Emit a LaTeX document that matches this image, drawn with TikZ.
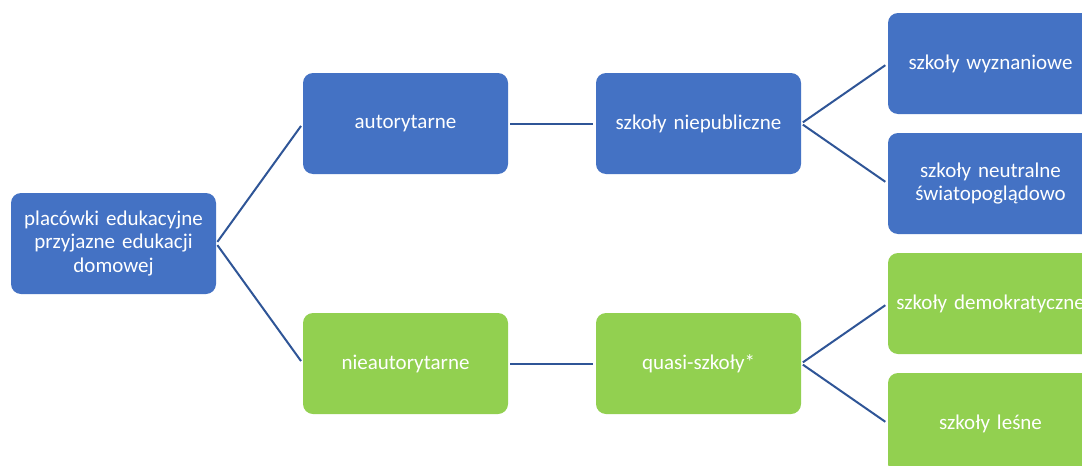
\documentclass[tikz,border=0pt]{standalone}
\usepackage{fontspec}
\setmainfont{Carlito}
\definecolor{boxblue}{HTML}{4472C4}
\definecolor{boxgreen}{HTML}{92D050}
\definecolor{linkblue}{HTML}{2F5597}
\begin{document}
\begin{tikzpicture}[x=1pt,y=-1pt,
  card/.style={rectangle, rounded corners=10pt, minimum width=205pt, minimum height=101pt,
    text=white, align=center, text width=200pt, inner sep=0pt,
    font=\fontsize{21}{23.3}\selectfont},
  bluecard/.style={card, fill=boxblue},
  greencard/.style={card, fill=boxgreen},
  link/.style={draw=linkblue, line width=2pt, shorten >=3pt, shorten <=2pt}]
\clip (0,0) rectangle (1082,466);
\fill[white] (0,0) rectangle (1082,466);
% levels of the tree
\node[bluecard] (root) at (113.5,243.5) {placówki edukacyjne\\przyjazne edukacji\\domowej};
\node[bluecard] (aut) at (405.5,123.5) {autorytarne};
\node[greencard] (nieaut) at (405.5,363.5) {nieautorytarne};
\node[bluecard] (niepub) at (698.5,123.5) {szkoły niepubliczne};
\node[greencard] (quasi) at (698.5,363.5) {quasi-szkoły*};
\node[bluecard] (wyzn) at (990.5,63.5) {szkoły wyznaniowe};
\node[bluecard] (neutr) at (990.5,183.5) {szkoły neutralne\\światopoglądowo};
\node[greencard] (demo) at (990.5,303.5) {szkoły demokratyczne};
\node[greencard] (lesne) at (990.5,423.5) {szkoły leśne};
% connectors
\draw[link] (root.east) -- (aut.west);
\draw[link] (root.east) -- (nieaut.west);
\draw[link] (aut.east) -- (niepub.west);
\draw[link] (nieaut.east) -- (quasi.west);
\draw[link] (niepub.east) -- (wyzn.west);
\draw[link] (niepub.east) -- (neutr.west);
\draw[link] (quasi.east) -- (demo.west);
\draw[link] (quasi.east) -- (lesne.west);
\end{tikzpicture}
\end{document}
